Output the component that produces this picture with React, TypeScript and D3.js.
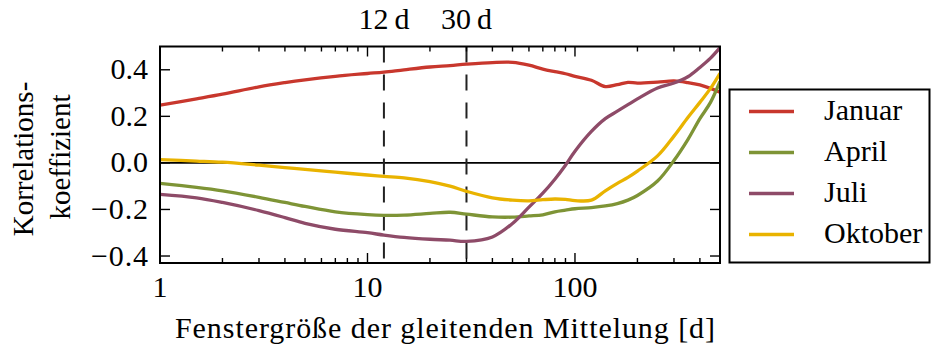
import React from 'react';
import * as d3 from 'd3';

const windowSizes = [1, 1.5, 2, 3, 4, 5, 7, 10, 12, 15, 20, 25, 30, 40, 50, 60, 70, 80, 90, 100, 120, 140, 160, 180, 200, 250, 300, 350, 400, 450, 500];

const januar = [0.248, 0.275, 0.295, 0.327, 0.345, 0.357, 0.372, 0.384, 0.39, 0.4, 0.412, 0.418, 0.424, 0.431, 0.432, 0.42, 0.403, 0.392, 0.383, 0.372, 0.355, 0.328, 0.336, 0.346, 0.343, 0.347, 0.352, 0.345, 0.335, 0.32, 0.303];
const april = [-0.088, -0.105, -0.12, -0.148, -0.17, -0.187, -0.21, -0.222, -0.225, -0.224, -0.217, -0.212, -0.22, -0.232, -0.233, -0.228, -0.223, -0.21, -0.203, -0.197, -0.192, -0.185, -0.175, -0.16, -0.14, -0.078, 0.01, 0.1, 0.19, 0.26, 0.35];
const juli = [-0.135, -0.15, -0.17, -0.205, -0.235, -0.26, -0.285, -0.3, -0.31, -0.32, -0.328, -0.332, -0.337, -0.318, -0.26, -0.19, -0.13, -0.07, -0.01, 0.05, 0.135, 0.19, 0.222, 0.25, 0.275, 0.322, 0.343, 0.37, 0.41, 0.45, 0.495];
const oktober = [0.014, 0.008, 0.003, -0.01, -0.02, -0.028, -0.04, -0.052, -0.058, -0.064, -0.08, -0.1, -0.122, -0.15, -0.16, -0.163, -0.158, -0.155, -0.157, -0.162, -0.16, -0.12, -0.088, -0.062, -0.035, 0.03, 0.115, 0.195, 0.26, 0.32, 0.385];

const seriesNames = ['Januar', 'April', 'Juli', 'Oktober'];
const seriesColors = ['#c8372d', '#7e9436', '#8e4b68', '#e9b300'];
const seriesValues = [januar, april, juli, oktober];

const yTicks = [-0.4, -0.2, 0, 0.2, 0.4];
const xTicks = [1, 10, 100];
const markerWindows = [12, 30];

const FONT = '"Liberation Serif", "DejaVu Serif", serif';
const FS = 30;

export default function App() {
  const W = 931;
  const H = 345;
  const plot = { left: 160, right: 720, top: 46.5, bottom: 263 };

  const x = d3.scaleLog().domain([1, 500]).range([plot.left, plot.right]);
  const y = d3.scaleLinear().domain([-0.43, 0.5]).range([plot.bottom, plot.top]);

  const line = d3
    .line<number>()
    .x((_, i) => x(windowSizes[i]))
    .y(d => y(d))
    .curve(d3.curveCatmullRom.alpha(0.5));

  // minor ticks on the log axis
  const minorTicks: number[] = [];
  [1, 10, 100].forEach(dec => {
    for (let k = 2; k <= 9; k++) {
      const v = dec * k;
      if (v <= 500) minorTicks.push(v);
    }
  });

  const fmtY = (v: number) => (v < 0 ? '\u2212' : '') + Math.abs(v).toFixed(1);

  const legend = { x: 729.5, y: 89.5, w: 200, h: 173, row0: 111.5, step: 41 };

  return (
    <svg
      width={W}
      height={H}
      style={{ position: 'absolute', left: 0, top: 0, display: 'block', background: '#fff' }}
      fontFamily={FONT}
    >
      <defs>
        <clipPath id="plot-clip">
          <rect x={plot.left} y={plot.top} width={plot.right - plot.left} height={plot.bottom - plot.top} />
        </clipPath>
      </defs>

      {/* zero line */}
      <line x1={plot.left} x2={plot.right} y1={y(0)} y2={y(0)} stroke="#000" strokeWidth={1.6} />

      {/* dashed markers */}
      {markerWindows.map(m => (
        <g key={m}>
          <line
            x1={x(m)}
            x2={x(m)}
            y1={plot.top}
            y2={plot.bottom}
            stroke="#222"
            strokeWidth={2}
            strokeDasharray="16,12"
          />
          <text x={x(m)} y={29} textAnchor="middle" fontSize={FS}>
            {m}{'\u2009'}d
          </text>
        </g>
      ))}

      {/* series */}
      <g clipPath="url(#plot-clip)">
        {seriesValues.map((vals, i) => (
          <path
            key={seriesNames[i]}
            d={line(vals) || ''}
            fill="none"
            stroke={seriesColors[i]}
            strokeWidth={3.3}
            strokeLinejoin="round"
          />
        ))}
      </g>

      {/* ticks, inward on all sides */}
      <g stroke="#000" strokeWidth={1.4}>
        {xTicks.map(t => (
          <g key={'x' + t}>
            <line x1={x(t)} x2={x(t)} y1={plot.bottom} y2={plot.bottom - 10} />
            <line x1={x(t)} x2={x(t)} y1={plot.top} y2={plot.top + 10} />
          </g>
        ))}
        {minorTicks.map(t => (
          <g key={'m' + t}>
            <line x1={x(t)} x2={x(t)} y1={plot.bottom} y2={plot.bottom - 5} />
            <line x1={x(t)} x2={x(t)} y1={plot.top} y2={plot.top + 5} />
          </g>
        ))}
        {yTicks.map(t => (
          <g key={'y' + t}>
            <line x1={plot.left} x2={plot.left + 10} y1={y(t)} y2={y(t)} />
            <line x1={plot.right} x2={plot.right - 10} y1={y(t)} y2={y(t)} />
          </g>
        ))}
      </g>

      {/* frame */}
      <rect
        x={plot.left}
        y={plot.top}
        width={plot.right - plot.left}
        height={plot.bottom - plot.top}
        fill="none"
        stroke="#000"
        strokeWidth={2}
      />

      {/* tick labels */}
      {xTicks.map(t => (
        <text key={'xl' + t} x={x(t)} y={297} textAnchor="middle" fontSize={FS}>
          {t}
        </text>
      ))}
      {yTicks.map(t => (
        <text
          key={'yl' + t}
          x={148}
          y={y(t) + 9.5}
          textAnchor="end"
          fontSize={FS}
          textLength={t < 0 ? 57 : undefined}
          lengthAdjust="spacing"
        >
          {fmtY(t)}
        </text>
      ))}

      {/* axis labels */}
      <text
        x={(plot.left + plot.right) / 2 + 5}
        y={338}
        textAnchor="middle"
        fontSize={FS}
        textLength={540}
        lengthAdjust="spacing"
      >
        Fenstergröße der gleitenden Mittelung [d]
      </text>
      <text transform="translate(33,159) rotate(-90)" textAnchor="middle" fontSize={FS - 1}>
        Korrelations-
      </text>
      <text transform="translate(70,157) rotate(-90)" textAnchor="middle" fontSize={FS - 1}>
        koeffizient
      </text>

      {/* legend */}
      <rect x={legend.x} y={legend.y} width={legend.w} height={legend.h} fill="#fff" stroke="#000" strokeWidth={2} />
      {seriesNames.map((name, i) => {
        const ry = legend.row0 + i * legend.step;
        return (
          <g key={'lg' + name}>
            <line x1={749} x2={794} y1={ry} y2={ry} stroke={seriesColors[i]} strokeWidth={3.6} />
            <text x={824} y={ry + 8} fontSize={FS}>
              {name}
            </text>
          </g>
        );
      })}
    </svg>
  );
}
